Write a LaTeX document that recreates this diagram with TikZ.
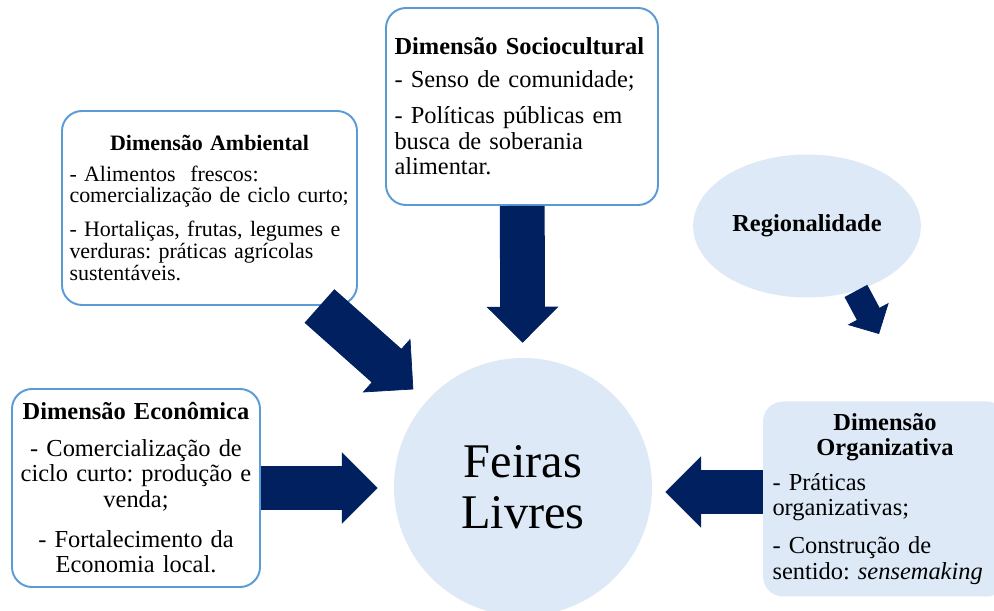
\documentclass[tikz,border=0pt]{standalone}
\usepackage{fontspec}
\setmainfont{Liberation Serif}
\usepackage{tikz}
\usetikzlibrary{arrows.meta, shapes.geometric}
\definecolor{navy}{RGB}{0,32,96}
\definecolor{boxline}{RGB}{91,155,213}
\definecolor{paleblue}{RGB}{221,233,246}
\setlength{\parindent}{0pt}
\frenchspacing

\begin{document}
\begin{tikzpicture}
		\tikzstyle{dimbox} = [rectangle,rounded corners=0.4cm,draw=boxline,line width=1.1pt,fill=white,inner sep=0pt]
		\tikzstyle{dimfill} = [rectangle,rounded corners=0.4cm,fill=paleblue,inner sep=0pt]
		\tikzstyle{big} = [font=\fontsize{13.9pt}{14.6pt}\selectfont]
		\tikzstyle{small} = [font=\fontsize{12.5pt}{12.3pt}\selectfont]
		\tikzset{bigarrow/.style={draw=navy,line width=25.5pt,shorten >=#1+19.5pt,
			postaction={draw=navy,line width=0.4pt,shorten >=#1,-{Triangle[length=20.4pt,width=40.8pt]}}}}
		\tikzset{smallarrow/.style={draw=navy,line width=14.7pt,shorten >=12.5pt,
			postaction={draw=navy,line width=0.4pt,shorten >=0pt,-{Triangle[length=13pt,width=26.4pt]}}}}
		\clip (0,0) rectangle (19.88,-12.22);
		\node[circle,fill=paleblue,minimum size=5.16cm,align=center,font=\fontsize{27.5pt}{29pt}\selectfont] (feira) at (10.46,-9.74) {Feiras\\Livres};
		\node[dimbox,small,minimum width=5.9cm,minimum height=3.88cm,text width=5.6cm] (amb) at (4.19,-4.16)
			{\centering\textbf{Dimensão Ambiental}\\[5pt]\raggedright
			- Alimentos\ \ frescos:\\ comercialização de ciclo curto;\\[7pt]
			- Hortaliças, frutas, legumes e\\ verduras: práticas agrícolas\\ sustentáveis.\par};
		\node[dimbox,big,minimum width=5.44cm,minimum height=3.94cm,text width=5.1cm] (soc) at (10.44,-2.13)
			{\raggedright\textbf{Dimensão Sociocultural}\\[4pt]
			- Senso de comunidade;\\[6pt]
			- Políticas públicas em\\ busca de soberania\\ alimentar.\par};
		\node[dimbox,big,minimum width=4.96cm,minimum height=3.96cm,text width=4.7cm,align=center] (eco) at (2.72,-9.76)
			{\textbf{Dimensão Econômica}\\[6pt]
			- Comercialização de\\ ciclo curto: produção e\\ venda;\\[8pt]
			- Fortalecimento da\\ Economia local.};
		\node[dimfill,big,minimum width=4.88cm,minimum height=3.9cm,text width=4.5cm] (org) at (17.7,-9.98)
			{\centering\textbf{Dimensão}\\ \textbf{Organizativa}\par\vspace{5pt}\raggedright
			- Práticas\\ organizativas;\\[7pt]
			- Construção de\\ sentido: \textit{sensemaking}\par};
		\node[ellipse,fill=paleblue,minimum width=4.48cm,minimum height=2.86cm,big] (reg) at (16.14,-4.52) {\textbf{Regionalidade}};
		\coordinate (regtip) at (17.58,-6.68);
		\draw[bigarrow=0.35cm] (amb)--(feira);
		\draw[bigarrow=0.3cm] (soc)--(feira);
		\draw[bigarrow=0.32cm] (eco.east)--(eco.east -| feira.west);
		\draw[bigarrow=0.26cm] ([yshift=0.14cm]org.west)--([yshift=0.14cm]org.west -| feira.east);
		\draw[smallarrow] (reg.-53)--(regtip);
		\end{tikzpicture}
\end{document}
